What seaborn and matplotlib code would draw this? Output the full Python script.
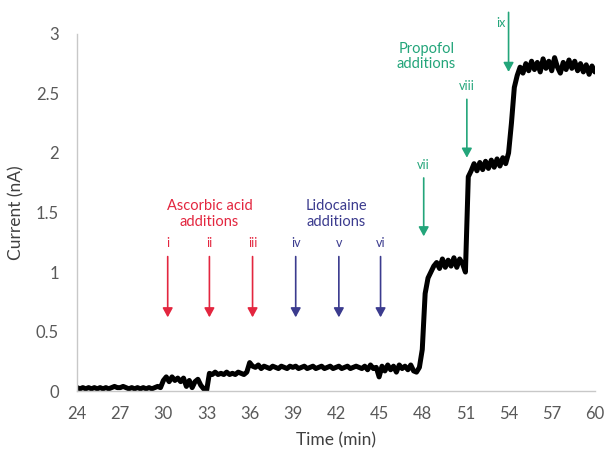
import numpy as np
import pandas as pd
import matplotlib
matplotlib.use("Agg")
import matplotlib.pyplot as plt
import seaborn as sns

# ---- data ----
time_start, time_end, time_step = 24.0, 60.0, 0.2
current_nA = [
    # 24 - 29.8
    0.03, 0.02, 0.03, 0.02, 0.03,
    0.02, 0.03, 0.02, 0.03, 0.02,
    0.03, 0.02, 0.03, 0.04, 0.03,
    0.03, 0.04, 0.03, 0.02, 0.03,
    0.02, 0.03, 0.02, 0.03, 0.02,
    0.03, 0.02, 0.03, 0.04, 0.03,
    # 30 - 32.8
    0.09, 0.12, 0.08, 0.12, 0.09,
    0.11, 0.08, 0.11, 0.04, 0.09,
    0.03, 0.08, 0.10, 0.05, 0.02,
    # 33 - 35.8
    0.00, 0.15, 0.14, 0.16, 0.14,
    0.15, 0.14, 0.16, 0.14, 0.15,
    0.14, 0.16, 0.15, 0.14, 0.16,
    # 36 - 47.8
    0.24, 0.21, 0.20, 0.22, 0.19,
    0.21, 0.20, 0.19, 0.21, 0.20,
    0.19, 0.21, 0.20, 0.19, 0.21,
    0.20, 0.21, 0.19, 0.20, 0.21,
    0.19, 0.20, 0.21, 0.19, 0.20,
    0.21, 0.19, 0.20, 0.21, 0.19,
    0.20, 0.21, 0.19, 0.20, 0.21,
    0.19, 0.20, 0.21, 0.20, 0.19,
    0.21, 0.18, 0.22, 0.19, 0.20,
    0.12, 0.21, 0.17, 0.22, 0.18,
    0.21, 0.16, 0.22, 0.19, 0.21,
    0.18, 0.22, 0.17, 0.16, 0.20,
    # 48 - 50.8
    0.35, 0.82, 0.95, 1.00, 1.05,
    1.08, 1.03, 1.11, 1.04, 1.10,
    1.05, 1.12, 1.04, 1.11, 1.07,
    # 51 - 53.8
    1.00, 1.80, 1.85, 1.91, 1.85,
    1.92, 1.86, 1.93, 1.87, 1.94,
    1.88, 1.95, 1.89, 1.96, 1.91,
    # 54 - 60
    2.00, 2.25, 2.55, 2.65, 2.72,
    2.67, 2.75, 2.69, 2.77, 2.70,
    2.76, 2.68, 2.79, 2.71, 2.77,
    2.69, 2.80, 2.72, 2.67, 2.76,
    2.70, 2.78, 2.71, 2.77, 2.69,
    2.75, 2.68, 2.74, 2.66, 2.73,
    2.68,
]
time_min = np.round(np.arange(time_start, time_end + time_step / 2, time_step), 1)

# additions: label, time (min), arrow top, arrow tip (nA), group
add_labels = ["i", "ii", "iii", "iv", "v", "vi", "vii", "viii", "ix"]
add_times = [30.3, 33.2, 36.2, 39.2, 42.2, 45.1, 48.1, 51.1, 54.0]
add_top = [1.13, 1.13, 1.13, 1.13, 1.13, 1.13, 1.79, 2.45, 3.18]
add_tip = [0.62, 0.62, 0.62, 0.62, 0.62, 0.62, 1.30, 1.96, 2.68]
add_group = ["Ascorbic acid", "Ascorbic acid", "Ascorbic acid",
             "Lidocaine", "Lidocaine", "Lidocaine",
             "Propofol", "Propofol", "Propofol"]
group_names = ["Ascorbic acid", "Lidocaine", "Propofol"]
group_text = ["Ascorbic acid\nadditions", "Lidocaine\nadditions", "Propofol\nadditions"]
group_text_pos = [(33.2, 1.49), (42.0, 1.49), (48.3, 2.81)]
group_colors = {"Ascorbic acid": "#e3263f", "Lidocaine": "#3b3b8e", "Propofol": "#23a57a"}

x_ticks = [24, 27, 30, 33, 36, 39, 42, 45, 48, 51, 54, 57, 60]
y_ticks = [0, 0.5, 1, 1.5, 2, 2.5, 3]
y_tick_labels = ["0", "0.5", "1", "1.5", "2", "2.5", "3"]

# ---- plot ----
sns.set_style("white")
plt.rcParams["font.family"] = ["Lato", "DejaVu Sans"]

fig = plt.figure(figsize=(6.07, 4.57), dpi=100)
ax = fig.add_axes([0.127, 0.144, 0.853, 0.782])

df = pd.DataFrame({"Time (min)": time_min, "Current (nA)": current_nA})
sns.lineplot(data=df, x="Time (min)", y="Current (nA)", ax=ax,
             color="black", linewidth=3.6, estimator=None, sort=False)

for lab, t, top, tip, g in zip(add_labels, add_times, add_top, add_tip, add_group):
    c = group_colors[g]
    ax.annotate("", xy=(t, tip), xytext=(t, top),
                arrowprops=dict(arrowstyle="-|>,head_length=0.55,head_width=0.3",
                                color=c, lw=1.2, shrinkA=0, shrinkB=0),
                annotation_clip=False)
    if top > 3:
        # label sits beside the arrow near the top edge
        ax.text(t - 0.55, 3.09, lab, color=c, ha="center", va="center",
                fontsize=9, clip_on=False)
    else:
        ax.text(t, top + 0.06, lab, color=c, ha="center", va="bottom",
                fontsize=9, clip_on=False)

for g, txt, (tx, ty) in zip(group_names, group_text, group_text_pos):
    ax.text(tx, ty, txt, color=group_colors[g], ha="center", va="center",
            fontsize=10.5, linespacing=1.15)

ax.set_xlim(24, 60)
ax.set_ylim(0, 3)
ax.set_xticks(x_ticks)
ax.set_xticklabels([str(v) for v in x_ticks])
ax.set_yticks(y_ticks)
ax.set_yticklabels(y_tick_labels)

for side in ["top", "right"]:
    ax.spines[side].set_visible(False)
for side in ["left", "bottom"]:
    ax.spines[side].set_color("#c8c8c8")
    ax.spines[side].set_linewidth(1.0)

ax.tick_params(axis="x", direction="in", length=4, color="#c8c8c8",
               labelcolor="#595959", labelsize=12, pad=11)
ax.tick_params(axis="y", direction="out", length=3, color="#c8c8c8",
               labelcolor="#595959", labelsize=12, pad=10)

ax.set_xlabel("Time (min)", fontsize=12.5, color="#404040", labelpad=7)
ax.set_ylabel("Current (nA)", fontsize=12.5, color="#404040", labelpad=8)

fig.savefig("out.png", dpi=100)
